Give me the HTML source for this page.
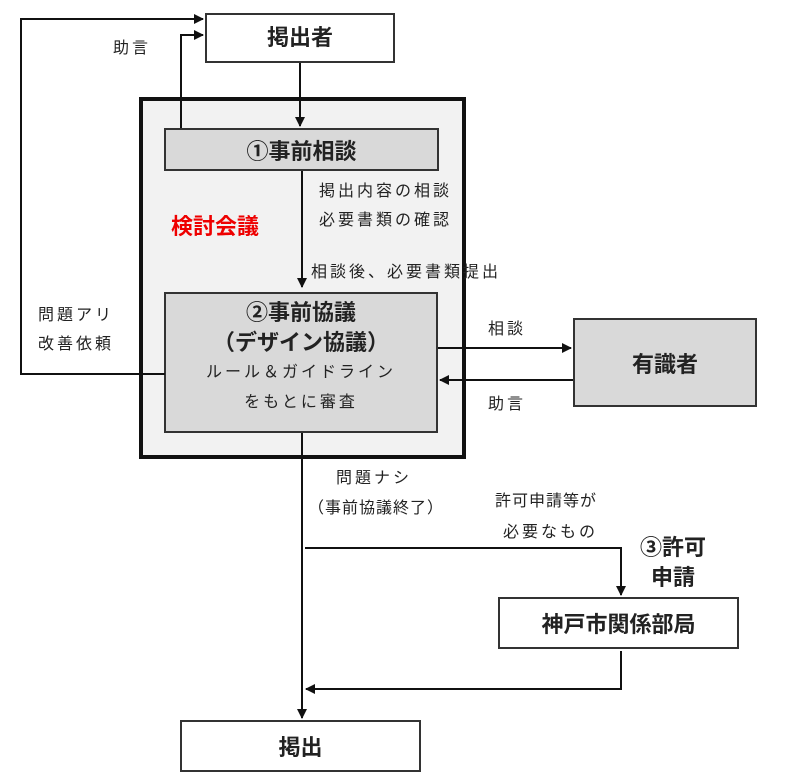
<!DOCTYPE html>
<html><head><meta charset="utf-8"><style>
body{margin:0;background:#fff;width:785px;height:776px;position:relative;overflow:hidden;font-family:"Liberation Sans","Noto Sans CJK JP",sans-serif;color:#222}
.b{position:absolute;box-sizing:border-box;border:2px solid #333;display:flex;align-items:center;justify-content:center;font-weight:bold;font-size:22px;flex-direction:column}
.t{position:absolute;font-size:16px;line-height:29px;white-space:nowrap;letter-spacing:3px}
</style></head><body>
<div class="b" style="left:139px;top:97px;width:327px;height:362px;border:4px solid #111;background:#f2f2f2"></div>
<div class="b" style="left:205px;top:13px;width:190px;height:50px;background:#fff;padding-bottom:4px">掲出者</div>
<div class="b" style="left:164px;top:128px;width:275px;height:43px;background:#d9d9d9">①事前相談</div>
<div class="b" style="left:164px;top:292px;width:274px;height:141px;background:#d9d9d9;justify-content:flex-start;padding-top:4px;line-height:30px">
<div>②事前協議</div><div>（デザイン協議）</div>
<div style="font-weight:normal;font-size:16px;letter-spacing:3px">ルール＆ガイドライン</div>
<div style="font-weight:normal;font-size:16px;letter-spacing:3px">をもとに審査</div></div>
<div class="b" style="left:573px;top:318px;width:184px;height:89px;background:#d9d9d9">有識者</div>
<div class="b" style="left:498px;top:597px;width:241px;height:52px;background:#fff">神戸市関係部局</div>
<div class="b" style="left:180px;top:720px;width:241px;height:52px;background:#fff">掲出</div>
<div class="t" style="left:171px;top:212px;color:#e00;font-weight:bold;font-size:22px;letter-spacing:0">検討会議</div>
<div class="t" style="left:113px;top:34px">助言</div>
<div class="t" style="left:319px;top:177px">掲出内容の相談<br>必要書類の確認</div>
<div class="t" style="left:311px;top:258px">相談後、必要書類提出</div>
<div class="t" style="left:38px;top:301px">問題アリ<br>改善依頼</div>
<div class="t" style="left:488px;top:315px">相談</div>
<div class="t" style="left:488px;top:390px">助言</div>
<div class="t" style="left:336px;top:464px">問題ナシ</div>
<div class="t" style="left:308px;top:494px;letter-spacing:1px">（事前協議終了）</div>
<div class="t" style="left:495px;top:487px;letter-spacing:1px">許可申請等が</div>
<div class="t" style="left:503px;top:518px">必要なもの</div>
<div class="t" style="left:640px;top:533px;font-weight:bold;font-size:22px;line-height:30px;letter-spacing:0;text-align:center">③許可<br>申請</div>
<svg style="position:absolute;left:0;top:0" width="785" height="776">
<defs><marker id="a" markerWidth="10" markerHeight="10" refX="9" refY="5" orient="auto" markerUnits="userSpaceOnUse"><path d="M0,0L10,5L0,10z" fill="#111"/></marker></defs>
<g stroke="#111" stroke-width="2" fill="none">
<path d="M300,63V126" marker-end="url(#a)"/>
<path d="M181,128V35H203" marker-end="url(#a)"/>
<path d="M165,374H21V19H203" marker-end="url(#a)"/>
<path d="M302,171V287" marker-end="url(#a)"/>
<path d="M438,348H571" marker-end="url(#a)"/>
<path d="M573,380H440" marker-end="url(#a)"/>
<path d="M302,433V718" marker-end="url(#a)"/>
<path d="M305,548H621V595" marker-end="url(#a)"/>
<path d="M621,651V689H306" marker-end="url(#a)"/>
</g></svg>
</body></html>
